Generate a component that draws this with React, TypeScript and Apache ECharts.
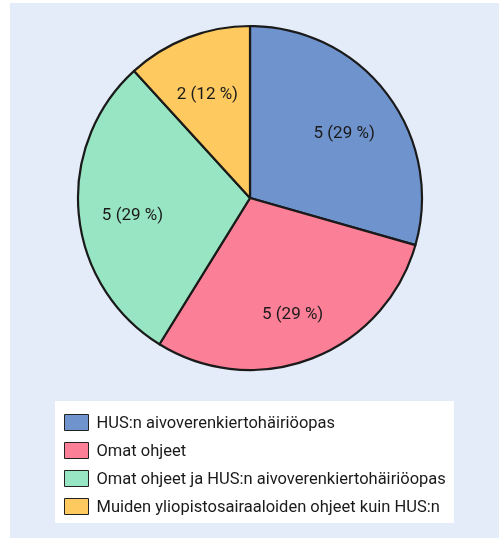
import React, { useEffect, useRef } from "react";
import * as echarts from "echarts";

const categories = [
  "HUS:n aivoverenkiertohäiriöopas",
  "Omat ohjeet",
  "Omat ohjeet ja HUS:n aivoverenkiertohäiriöopas",
  "Muiden yliopistosairaaloiden ohjeet kuin HUS:n",
];
const counts = [5, 5, 5, 2];
const percents = [29, 29, 29, 12];
const colors = ["#6f93cc", "#fb7f96", "#98e5c3", "#fec95f"];

const FONT = "Roboto, sans-serif";

export default function App() {
  const ref = useRef<HTMLDivElement>(null);
  useEffect(() => {
    if (!ref.current) return;
    const chart = echarts.init(ref.current, null, { renderer: "svg" });
    const data = categories.map((name, i) => ({
      name,
      value: counts[i],
      itemStyle: { color: colors[i] },
    }));
    chart.setOption({
      animation: false,
      graphic: [
        {
          type: "rect",
          z: -10,
          shape: { x: 10, y: 3, width: 489, height: 535 },
          style: { fill: "#e3ecf8" },
          silent: true,
        },
      ],
      legend: {
        orient: "vertical",
        left: 55,
        top: 401,
        backgroundColor: "#ffffff",
        padding: [13, 8, 8, 9],
        itemWidth: 24,
        itemHeight: 16,
        itemGap: 11,
        icon: "rect",
        itemStyle: { borderColor: "#222", borderWidth: 1 },
        textStyle: {
          fontFamily: FONT,
          fontSize: 16.5,
          lineHeight: 16,
          color: "#1a1a1a",
          padding: [0, 0, 0, 3],
        },
        data: categories,
      },
      series: [
        {
          type: "pie",
          center: [250, 198],
          radius: 172,
          startAngle: 90,
          clockwise: true,
          label: { show: false },
          labelLine: { show: false },
          itemStyle: { borderColor: "#1a1a1a", borderWidth: 2.2 },
          data,
        },
        {
          type: "pie",
          center: [250, 198],
          radius: [62, 168],
          startAngle: 90,
          clockwise: true,
          silent: true,
          legendHoverLink: false,
          itemStyle: { color: "transparent", borderWidth: 0 },
          label: {
            show: true,
            position: "inner",
            fontFamily: FONT,
            fontSize: 17,
            color: "#1a1a1a",
            formatter: (p: any) => `${counts[p.dataIndex]} (${percents[p.dataIndex]} %)`,
          },
          labelLayout: { dy: 5 },
          labelLine: { show: false },
          data: categories.map((name, i) => ({ name: name + " ", value: counts[i] })),
        },
      ],
    });
    return () => chart.dispose();
  }, []);
  return (
    <div
      ref={ref}
      style={{ position: "fixed", left: 0, top: 0, width: 499, height: 538 }}
    />
  );
}
